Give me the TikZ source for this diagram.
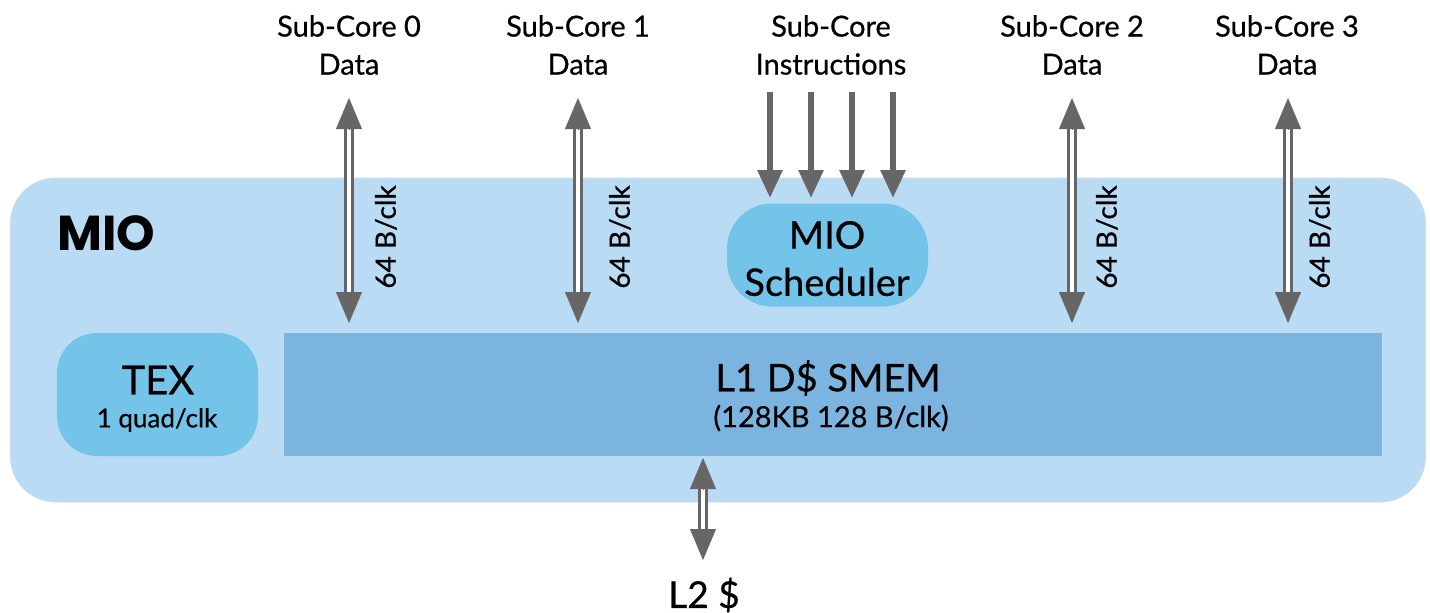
\documentclass[tikz,border=0pt]{standalone}
\usepackage{fontspec}
\setmainfont{Lato}[UprightFeatures={FakeBold=0.6}]
\newfontfamily\heavyfont{Poppins}
\usetikzlibrary{arrows.meta,calc}
\definecolor{mioblue}{HTML}{B9DBF4}
\definecolor{lonebl}{HTML}{7BB4DF}
\definecolor{texbl}{HTML}{74C3E9}
\definecolor{arrgray}{HTML}{666666}
\newcommand{\twoway}[2]{%
  \draw[line width=10pt, arrgray] ($(#1)+(0,26)$) -- ($(#2)+(0,-26)$);
  \draw[line width=4.5pt, white] ($(#1)+(0,24)$) -- ($(#2)+(0,-24)$);
  \draw[arrgray, -{Triangle[width=26pt,length=31pt]}] ($(#1)+(0,31)$) -- (#1);
  \draw[arrgray, -{Triangle[width=26pt,length=31pt]}] ($(#2)+(0,-31)$) -- (#2);
}
\begin{document}
\begin{tikzpicture}[x=1pt,y=-1pt,
  lbl/.style={font=\fontsize{29}{34}\selectfont, align=center, inner sep=0pt},
  bw/.style={font=\fontsize{28}{32}\selectfont, rotate=90, inner sep=0pt},
  inarrow/.style={draw=arrgray, line width=6pt, -{Triangle[width=24pt,length=28pt]}, shorten >=0pt}
]
\useasboundingbox (0,0) rectangle (1430,613);
% MIO container
\node[draw=mioblue!80!gray!60, line width=0.8pt, fill=mioblue, rounded corners=45pt, minimum width=1415pt, minimum height=324pt, inner sep=0pt] (mio) at (718,340) {};
\node[font=\heavyfont\bfseries\fontsize{49}{53}\selectfont, inner sep=0pt] (miolbl) at (106,233) {MIO};
% L1
\node[fill=lonebl, minimum width=1098pt, minimum height=123pt, inner sep=0pt, align=center] (l1) at (833,394.5) {};
\node[font=\fontsize{38}{42}\selectfont, inner sep=0pt] (l1t) at (828,378) {L1 D\$ SMEM};
\node[font=\fontsize{29}{33}\selectfont, inner sep=0pt] (l1s) at (831,418) {(128KB 128 B/clk)};
% TEX
\node[fill=texbl, rounded corners=40pt, minimum width=201pt, minimum height=123pt, inner sep=0pt] (tex) at (157.5,394.5) {};
\node[font=\fontsize{40}{44}\selectfont, inner sep=0pt] (text) at (158,380) {TEX};
\node[font=\fontsize{26}{30}\selectfont, inner sep=0pt] (texs) at (157,420) {1 quad/clk};
% Scheduler
\node[fill=texbl, rounded corners=45pt, minimum width=201pt, minimum height=103pt, inner sep=0pt] (sched) at (827.5,255) {};
\node[font=\fontsize{38}{42}\selectfont, inner sep=0pt] (sch1) at (827,235) {MIO};
\node[font=\fontsize{38}{42}\selectfont, inner sep=0pt] (sch2) at (827,282) {Scheduler};
% top labels
\node[lbl] (s0) at (349,45) {Sub-Core 0\\[4pt]Data};
\node[lbl] (s1) at (578,45) {Sub-Core 1\\[4pt]Data};
\node[lbl] (si) at (831,45) {Sub-Core\\[4pt]Instructions};
\node[lbl] (s2) at (1072,45) {Sub-Core 2\\[4pt]Data};
\node[lbl] (s3) at (1287,45) {Sub-Core 3\\[4pt]Data};
\node[font=\fontsize{37}{40}\selectfont, inner sep=0pt] (l2) at (704,595) {L2 \$};
% data arrows
\coordinate (a0t) at (349,98); \coordinate (a0b) at (349,323);
\coordinate (a1t) at (578,98); \coordinate (a1b) at (578,323);
\coordinate (a2t) at (1072,98); \coordinate (a2b) at (1072,323);
\coordinate (a3t) at (1288,98); \coordinate (a3b) at (1288,323);
\twoway{a0t}{a0b}
\twoway{a1t}{a1b}
\twoway{a2t}{a2b}
\twoway{a3t}{a3b}
\node[bw] (b0) at (386,237) {64 B/clk};
\node[bw] (b1) at (620,237) {64 B/clk};
\node[bw] (b2) at (1107,237) {64 B/clk};
\node[bw] (b3) at (1320,237) {64 B/clk};
% L2 arrow
\coordinate (l2t) at (703,458); \coordinate (l2b) at (703,560);
\twoway{l2t}{l2b}
% instruction arrows
\foreach \x/\n in {770/1,811/2,852/3,893/4}{
  \coordinate (it\n) at (\x,92);
  \coordinate (ib\n) at (\x,198);
  \draw[inarrow] (it\n) -- (ib\n);
}
\end{tikzpicture}
\end{document}
